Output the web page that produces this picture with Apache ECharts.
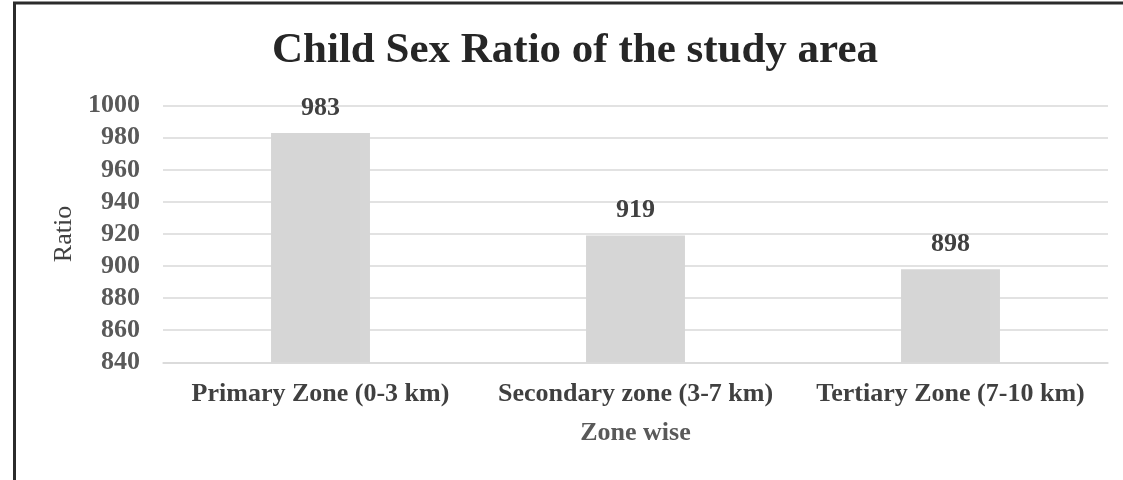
<!DOCTYPE html>
<html>
<head>
<meta charset="utf-8">
<script src="https://cdn.jsdelivr.net/npm/echarts@6/dist/echarts.min.js"></script>
<style>
  html, body { margin: 0; padding: 0; background: #fff; }
  #chart { width: 1123px; height: 480px; }
</style>
</head>
<body>
<div id="chart"></div>
<script>
// Child sex ratio (girls per 1000 boys, age 0-6) by distance zone
const zones = ['Primary Zone (0-3 km)', 'Secondary zone (3-7 km)', 'Tertiary Zone (7-10 km)'];
const ratios = [983, 919, 898];
const yTicks = { min: 840, max: 1000, step: 20 };

const serif = "'Liberation Serif', 'Times New Roman', serif";

const chart = echarts.init(document.getElementById('chart'), null, { renderer: 'canvas' });

chart.setOption({
  animation: false,
  backgroundColor: '#ffffff',
  grid: { left: 163, right: 15, top: 105.7, bottom: 117.7, containLabel: false },
  graphic: [
    {
      type: 'rect',
      silent: true,
      shape: { x: 14.5, y: 3, width: 1300, height: 700 },
      style: { fill: 'none', stroke: '#2b2b2b', lineWidth: 3 }
    },
    {
      type: 'text',
      silent: true,
      x: 575,
      y: 51,
      style: {
        text: 'Child Sex Ratio of the study area',
        font: 'bold 43px ' + serif,
        fill: '#262626',
        textAlign: 'center',
        textVerticalAlign: 'middle'
      }
    }
  ],
  xAxis: {
    type: 'category',
    data: zones,
    name: 'Zone wise',
    nameLocation: 'middle',
    nameGap: 58,
    nameTextStyle: { fontFamily: serif, fontWeight: 'bold', fontSize: 26, color: '#595959' },
    axisLine: { show: true, lineStyle: { color: '#d9d9d9', width: 1.5 } },
    axisTick: { show: false },
    axisLabel: {
      interval: 0,
      hideOverlap: false,
      fontFamily: serif,
      fontWeight: 'bold',
      fontSize: 26,
      color: '#404040',
      margin: 19
    }
  },
  yAxis: {
    type: 'value',
    min: yTicks.min,
    max: yTicks.max,
    interval: yTicks.step,
    name: 'Ratio',
    nameLocation: 'middle',
    nameRotate: 90,
    nameGap: 83,
    nameTextStyle: { fontFamily: serif, fontSize: 26, color: '#404040' },
    axisLine: { show: false },
    axisTick: { show: false },
    splitLine: { show: true, lineStyle: { color: '#d9d9d9', width: 1.5 } },
    axisLabel: {
      formatter: (v) => String(v),
      fontFamily: serif,
      fontWeight: 'bold',
      fontSize: 26,
      color: '#595959',
      margin: 23
    }
  },
  series: [
    {
      type: 'bar',
      data: ratios,
      barWidth: '31.4%',
      itemStyle: { color: '#d6d6d6' },
      label: {
        show: true,
        position: 'top',
        distance: 12,
        fontFamily: serif,
        fontWeight: 'bold',
        fontSize: 26,
        color: '#404040'
      }
    }
  ]
});
</script>
</body>
</html>
